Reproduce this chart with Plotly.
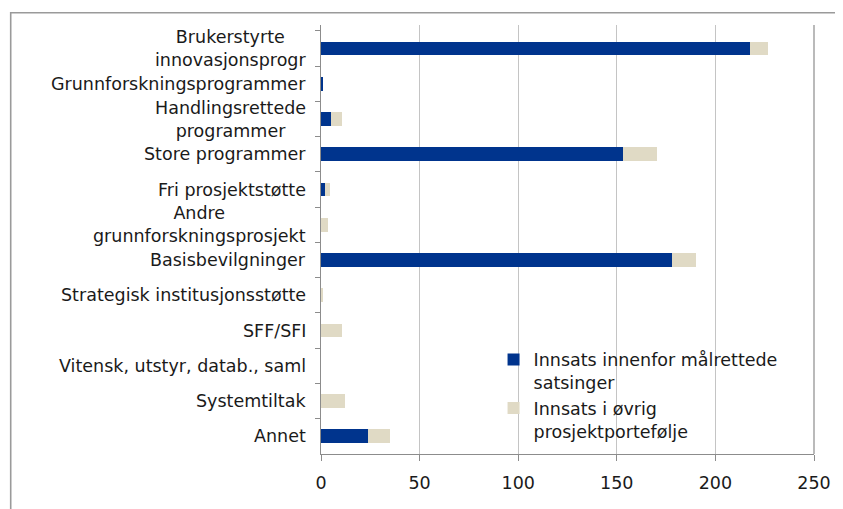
import plotly.graph_objects as go

# --- data ---
kategorier = [
    "Brukerstyrte<br>innovasjonsprogr",
    "Grunnforskningsprogrammer",
    "Handlingsrettede<br>programmer",
    "Store programmer",
    "Fri prosjektstøtte",
    "Andre<br>grunnforskningsprosjekt",
    "Basisbevilgninger",
    "Strategisk institusjonsstøtte",
    "SFF/SFI",
    "Vitensk, utstyr, datab., saml",
    "Systemtiltak",
    "Annet",
]
malrettede = [217.4, 0.8, 5.1, 153.3, 2.0, 0.0, 178.1, 0.0, 0.0, 0.0, 0.0, 23.6]
ovrig = [9.1, 0.0, 5.4, 17.3, 2.6, 3.6, 12.1, 0.6, 10.5, 0.0, 12.1, 11.2]

x_ticks = [0, 50, 100, 150, 200, 250]

FONT = "DejaVu Sans"
FS = 17.5
BLUE = "#00348d"
BEIGE = "#e0dac5"
AXIS = "#8c8c8c"

fig = go.Figure()
fig.add_trace(go.Bar(y=kategorier, x=malrettede, orientation="h",
                     name="Innsats innenfor målrettede<br>satsinger", legendgroup="a",
                     marker=dict(color=BLUE, line=dict(width=0))))
fig.add_trace(go.Bar(y=kategorier, x=ovrig, orientation="h",
                     name="Innsats i øvrig<br>prosjektportefølje", legendgroup="b",
                     marker=dict(color=BEIGE, line=dict(width=0))))

# category labels as annotations so multi-line labels can be centred
for k in kategorier:
    fig.add_annotation(x=0, y=k, xref="x", yref="y", text=k, showarrow=False,
                       xanchor="right", yanchor="middle", align="center",
                       xshift=-13, font=dict(family=FONT, size=FS, color="#1a1a1a"))

# outer frame and right border of the plot area
fig.add_shape(type="rect", xref="paper", yref="paper",
              x0=-0.6294, x1=1.2, y0=-0.3, y1=1.0287,
              line=dict(color="#9a9a9a", width=1.6), layer="below")
fig.add_shape(type="line", xref="paper", yref="paper",
              x0=1, x1=1, y0=0, y1=1, line=dict(color=AXIS, width=1.2))

# page body has an 8px margin, so the figure is 8px smaller than the window
fig.update_layout(
    width=835, height=501,
    margin=dict(l=313, r=26, t=17, b=55),
    barmode="stack", bargap=0.61,
    plot_bgcolor="white", paper_bgcolor="white",
    font=dict(family=FONT, size=FS, color="#1a1a1a"),
    showlegend=True,
    legend=dict(x=0.35, y=0.262, xanchor="left", yanchor="top",
                traceorder="normal", valign="top",
                bgcolor="rgba(0,0,0,0)", font=dict(family=FONT, size=FS),
                tracegroupgap=4),
)
fig.update_xaxes(range=[0, 250], tickvals=x_ticks, ticks="outside", ticklen=6,
                 tickcolor=AXIS, showline=True, linecolor=AXIS, linewidth=1.2,
                 showgrid=True, gridcolor="#c4c4c4", gridwidth=1.2, zeroline=False,
                 tickfont=dict(family=FONT, size=FS, color="#1a1a1a"),
                 ticklabelstandoff=7)
fig.update_yaxes(categoryorder="array", categoryarray=kategorier, autorange="reversed",
                 showticklabels=False, ticks="outside", tickson="boundaries",
                 ticklen=5, tickcolor=AXIS, showline=True, linecolor=AXIS,
                 linewidth=1.2, showgrid=False)

fig.write_html("out.html")
